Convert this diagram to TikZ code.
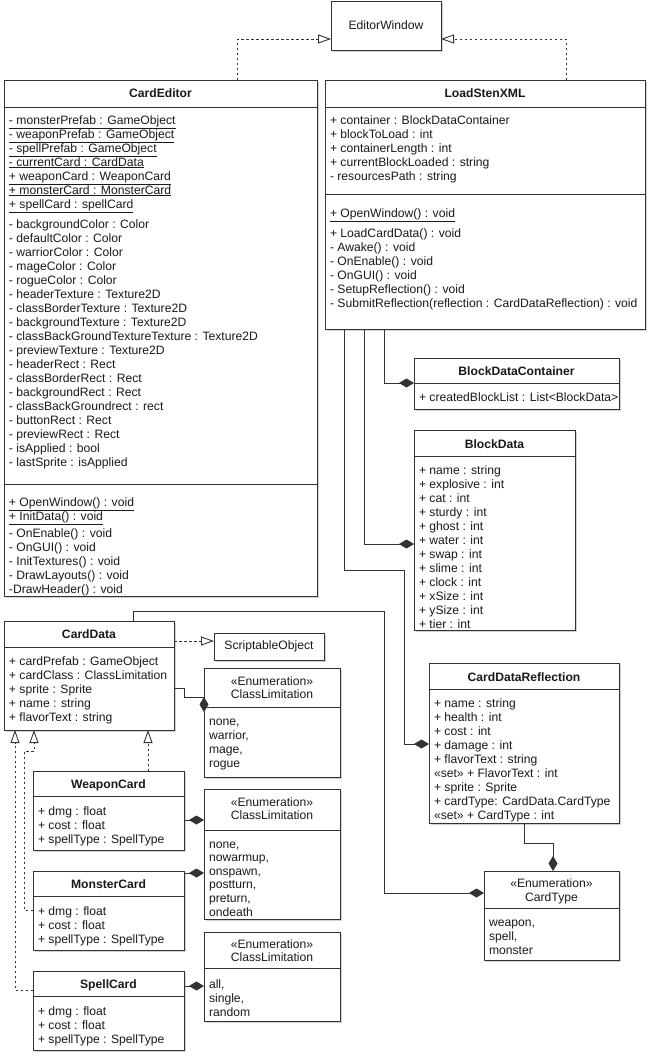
\documentclass[tikz,border=0pt]{standalone}
\usepackage{fontspec}
\setmainfont{Liberation Sans}
\usetikzlibrary{arrows.meta,shadows}

\definecolor{ink}{HTML}{1A1A1A}
\definecolor{edge}{HTML}{333333}

\tikzset{
  box/.style={draw=edge, fill=white, line width=0.9pt, inner sep=0pt, outer sep=0pt,
    drop shadow={shadow xshift=2pt, shadow yshift=-2pt, opacity=0.18, fill=black}},
  sep/.style={draw=edge, line width=0.9pt},
  row/.style={anchor=base west, inner sep=0pt, outer sep=0pt, text=ink,
    font=\fontsize{12.15}{14}\selectfont},
  title/.style={anchor=base, inner sep=0pt, text=ink, font=\fontsize{12.15}{14}\selectfont\bfseries},
  caption/.style={anchor=base, inner sep=0pt, text=ink, font=\fontsize{12.15}{14}\selectfont},
  link/.style={draw=edge, line width=0.9pt},
  realize/.style={link, dash pattern=on 2.5pt off 2.5pt,
    -{Triangle[open, length=13pt, width=9pt, fill=white]}},
  compose/.style={link, -{Diamond[length=15pt, width=9pt, fill=edge]}},
}

% class frame: name, left, top, right, bottom, header rule
\newcommand\umlbox[6]{%
  \node[box, anchor=north west, minimum width={#4-#2}, minimum height={#5-#3}] (#1) at (#2,#3) {};
  \draw[sep] (#1.west |- 0,#6) -- (#1.east |- 0,#6);}
% list of members: prefix, left, first row centre, row step, items
\newcommand\rowsat[5]{%
  \foreach \lbl [count=\i from 0] in {#5} {\node[row] (#1\i) at (#2,{#3+#4*\i+4}) {\lbl};}}

\begin{document}
\begin{tikzpicture}[x=1pt, y=-1pt]
\fill[white] (0,0) rectangle (651,1060);
\useasboundingbox (0,0) rectangle (651,1060);

% ---------- EditorWindow ----------
\node[box, minimum width=110, minimum height=49, text=ink, font=\fontsize{12.15}{14}\selectfont]
  (ew) at (386,25.5) {EditorWindow};

% ---------- CardEditor ----------
\umlbox{ce}{4}{80}{317}{596}{107}
\node[title] (ce-t) at (160.5,97) {CardEditor};
\rowsat{ceA}{9}{120}{14}{\underline{- monsterPrefab : GameObject},\underline{- weaponPrefab : GameObject},
  \underline{- spellPrefab : GameObject},\underline{- currentCard : CardData},
  \underline{+ weaponCard : WeaponCard},\underline{+ monsterCard : MonsterCard},
  \underline{+ spellCard : spellCard}}
\rowsat{ceB}{9}{224}{14}{- backgroundColor : Color,- defaultColor : Color,- warriorColor : Color,
  - mageColor : Color,- rogueColor : Color,- headerTexture : Texture2D,
  - classBorderTexture : Texture2D,- backgroundTexture : Texture2D,
  - classBackGroundTextureTexture : Texture2D,- previewTexture : Texture2D,
  - headerRect : Rect,- classBorderRect : Rect,- backgroundRect : Rect,
  - classBackGroundrect : rect,- buttonRect : Rect,- previewRect : Rect,
  - isApplied : bool,- lastSprite : isApplied}
\draw[sep] (ce.west |- 0,484) -- (ce.east |- 0,484);
\rowsat{ceC}{9}{502}{14}{\underline{+ OpenWindow() : void},\underline{+ InitData() : void}}
\rowsat{ceD}{9}{533}{14}{- OnEnable() : void,- OnGUI() : void,- InitTextures() : void,
  - DrawLayouts() : void,-DrawHeader() : void}

% ---------- LoadStenXML ----------
\umlbox{lsx}{325}{80}{645}{329}{107}
\node[title] (lsx-t) at (485,97) {LoadStenXML};
\rowsat{lsxA}{330}{120}{14}{+ container : BlockDataContainer,+ blockToLoad : int,
  + containerLength : int,+ currentBlockLoaded : string,- resourcesPath : string}
\draw[sep] (lsx.west |- 0,194) -- (lsx.east |- 0,194);
\rowsat{lsxB}{330}{213}{14}{\underline{+ OpenWindow() : void}}
\rowsat{lsxC}{330}{233}{14}{+ LoadCardData() : void,- Awake() : void,- OnEnable() : void,
  - OnGUI() : void,- SetupReflection() : void,
  - SubmitReflection(reflection : CardDataReflection) : void}

% ---------- BlockDataContainer ----------
\umlbox{bdc}{414}{358}{619}{409}{383}
\node[title] (bdc-t) at (516.5,375) {BlockDataContainer};
\begin{scope}
  \clip (bdc.north west) rectangle ([xshift=-1.5pt]bdc.south east);
  \rowsat{bdcA}{419}{397}{14}{+ createdBlockList : List<BlockData>}
\end{scope}

% ---------- BlockData ----------
\umlbox{bd}{414}{430}{575}{630}{456}
\node[title] (bd-t) at (494.5,448) {BlockData};
\rowsat{bdA}{419}{470}{14}{+ name : string,+ explosive : int,+ cat : int,+ sturdy : int,
  + ghost : int,+ water : int,+ swap : int,+ slime : int,+ clock : int,
  + xSize : int,+ ySize : int,+ tier : int}

% ---------- CardDataReflection ----------
\umlbox{cdr}{429}{663}{619}{823}{689}
\node[title] (cdr-t) at (524,681) {CardDataReflection};
\rowsat{cdrA}{434}{703}{14}{+ name : string,+ health : int,+ cost : int,+ damage : int,
  + flavorText : string,«set» + FlavorText : int,+ sprite : Sprite,
  + cardType: CardData.CardType,«set» + CardType : int}

% ---------- CardType ----------
\umlbox{ct}{484}{871}{619}{960}{908}
\node[caption] (ct-s) at (551.5,887) {«Enumeration»};
\node[caption] (ct-t) at (551.5,901) {CardType};
\rowsat{ctA}{489}{922}{14}{{weapon,},{spell,},monster}

% ---------- CardData ----------
\umlbox{cd}{4}{621}{174}{730}{647}
\node[title] (cd-t) at (89,638) {CardData};
\begin{scope}
  \clip (cd.north west) rectangle ([xshift=-1.5pt]cd.south east);
  \rowsat{cdA}{9}{661}{14}{+ cardPrefab : GameObject,+ cardClass : ClassLimitation,
    + sprite : Sprite,+ name : string,+ flavorText : string}
\end{scope}

% ---------- ScriptableObject ----------
\node[box, minimum width=110, minimum height=27, text=ink, font=\fontsize{12.15}{14}\selectfont]
  (so) at (269,646.5) {ScriptableObject};

% ---------- ClassLimitation enumerations ----------
\umlbox{cl1}{204}{668}{340}{777}{707}
\node[caption] (cl1-s) at (272,685) {«Enumeration»};
\node[caption] (cl1-t) at (272,698) {ClassLimitation};
\rowsat{cl1A}{209}{721}{14}{{none,},{warrior,},{mage,},rogue}

\umlbox{cl2}{204}{789}{340}{919}{830}
\node[caption] (cl2-s) at (272,806) {«Enumeration»};
\node[caption] (cl2-t) at (272,819) {ClassLimitation};
\rowsat{cl2A}{209}{844}{13.6}{{none,},{nowarmup,},{onspawn,},{postturn,},{preturn,},ondeath}

\umlbox{cl3}{204}{932}{340}{1021}{968}
\node[caption] (cl3-s) at (272,948) {«Enumeration»};
\node[caption] (cl3-t) at (272,961) {ClassLimitation};
\rowsat{cl3A}{209}{984}{14}{{all,},{single,},random}

% ---------- card subclasses ----------
\umlbox{wc}{33}{771}{184}{850}{796}
\node[title] (wc-t) at (108.5,788) {WeaponCard};
\rowsat{wcA}{38}{811}{14}{+ dmg : float,+ cost : float,+ spellType : SpellType}

\umlbox{mc}{33}{871}{184}{950}{896}
\node[title] (mc-t) at (108.5,888) {MonsterCard};
\rowsat{mcA}{38}{911}{14}{+ dmg : float,+ cost : float,+ spellType : SpellType}

\umlbox{sc}{33}{971}{184}{1050}{996}
\node[title] (sc-t) at (108.5,988) {SpellCard};
\rowsat{scA}{38}{1011}{14}{+ dmg : float,+ cost : float,+ spellType : SpellType}

% ---------- realizations ----------
\draw[realize] (ce.north -| 237,0) |- (ew.west |- 0,39);
\draw[realize] (lsx.north -| 566,0) |- (ew.east |- 0,39);
\draw[realize] (cd.east |- 0,641) -- (so.west |- 0,641);
\draw[realize] (wc.north -| 148,0) -- (cd.south -| 148,0);
\draw[realize] (mc.west |- 0,910) -| (24,751) -| (cd.south -| 34,0);
\draw[realize] (sc.west |- 0,990) -| (cd.south -| 15,0);

% ---------- compositions ----------
\draw[compose] (lsx.south -| 384,0) |- (bdc.west |- 0,383);
\draw[compose] (lsx.south -| 364,0) |- (bd.west |- 0,544);
\draw[compose] (lsx.south -| 344,0) |- (404,570) |- (cdr.west |- 0,744);
\draw[compose] (cd.north -| 133,0) |- (384,611) |- (ct.west |- 0,893);
\draw[compose] (cdr.south -| 524,0) |- (553,843) -- (ct.north -| 553,0);
\draw[compose] (cd.east |- 0,688) -| (184,697) -| (cl1.west |- 0,712);
\draw[compose] (wc.east |- 0,820) -- (cl2.west |- 0,820);
\draw[compose] (mc.east |- 0,873) -- (cl2.west |- 0,873);
\draw[compose] (sc.east |- 0,986) -- (cl3.west |- 0,986);
\end{tikzpicture}
\end{document}
